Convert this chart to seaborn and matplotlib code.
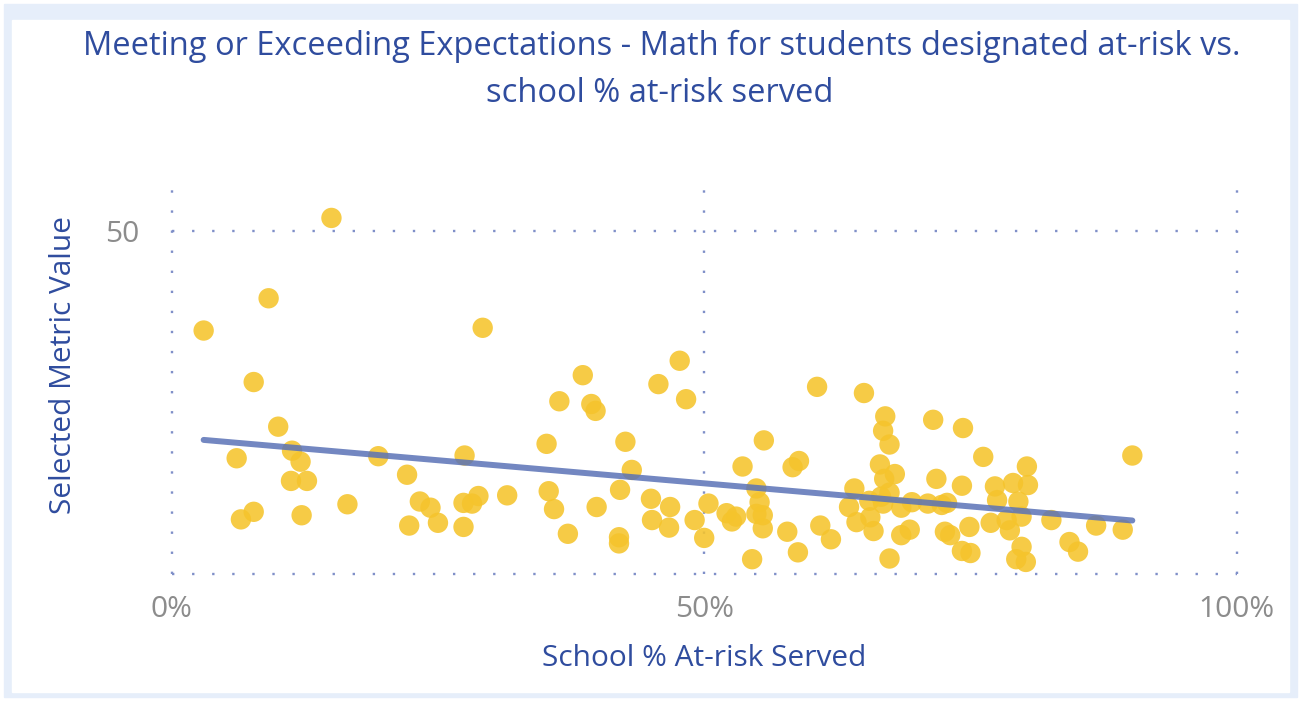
import matplotlib as mpl
import matplotlib.pyplot as plt
from matplotlib.patches import Rectangle
from matplotlib.ticker import PercentFormatter
import seaborn as sns
import pandas as pd

mpl.use('agg')

# school % at-risk served (x, in %) and selected metric value (y)
at_risk_pct = [
    15.0, 3.0, 9.1, 7.7, 10.0, 6.1, 11.3, 12.1, 11.2, 12.7,
    6.5, 7.7, 12.2, 16.5, 19.4, 22.1, 22.3, 23.3, 24.3, 25.0,
    27.5, 27.4, 28.2, 28.8, 27.4, 29.2, 31.5, 38.6, 36.4, 39.4,
    39.8, 35.2, 42.6, 43.2, 35.4, 35.9, 39.9, 42.1, 37.2, 42.0,
    42.0, 45.0, 46.8, 45.1, 46.7, 47.7, 45.7, 48.3, 49.1, 50.0,
    50.4, 52.1, 53.0, 52.6, 53.6, 55.6, 54.9, 55.2, 55.5, 54.9,
    55.5, 54.5, 57.8, 58.8, 58.3, 58.9, 60.6, 60.9, 61.9, 65.0,
    64.1, 63.6, 64.3, 67.0, 66.8, 67.4, 71.5, 74.3, 76.2, 80.3,
    90.2, 66.5, 67.9, 66.9, 71.8, 74.2, 77.3, 79.0, 80.4, 67.4,
    77.5, 79.5, 69.5, 71.0, 72.8, 72.3, 65.5, 66.8, 68.5, 66.6,
    65.9, 65.6, 68.5, 69.3, 72.6, 73.1, 74.9, 76.9, 78.4, 78.7,
    79.8, 82.6, 86.8, 89.3, 84.3, 85.1, 79.8, 79.3, 80.2, 67.4,
    74.2, 75.0,
]
metric_value = [
    51.9, 35.5, 40.2, 28.0, 21.5, 16.9, 18.0, 16.4, 13.6, 13.6,
    8.0, 9.1, 8.6, 10.2, 17.2, 14.5, 7.1, 10.6, 9.7, 7.5,
    17.3, 10.4, 10.3, 11.4, 6.9, 35.9, 11.5, 29.0, 25.2, 24.8,
    23.8, 19.0, 19.3, 15.2, 12.1, 9.5, 9.8, 12.3, 5.9, 5.4,
    4.5, 11.0, 9.8, 7.9, 6.8, 31.1, 27.7, 25.5, 7.9, 5.3,
    10.3, 8.9, 8.4, 7.7, 15.7, 19.5, 12.5, 10.5, 8.6, 8.8,
    6.7, 2.2, 6.2, 3.2, 15.6, 16.5, 27.3, 7.1, 5.1, 26.4,
    12.5, 9.8, 7.6, 23.0, 20.9, 18.9, 22.5, 21.3, 17.1, 15.7,
    17.3, 16.0, 14.6, 13.9, 13.9, 12.9, 12.8, 13.3, 13.0, 11.9,
    10.8, 10.6, 10.5, 10.3, 10.4, 10.1, 10.7, 10.3, 9.7, 11.3,
    6.3, 8.3, 5.7, 6.5, 6.2, 5.7, 6.9, 7.5, 7.9, 6.4,
    8.4, 7.9, 7.1, 6.5, 4.7, 3.3, 4.0, 2.2, 1.8, 2.3,
    3.4, 3.1,
]

x_ticks = [0, 50, 100]
y_ticks = [0, 50]
y_tick_labels = ['', '50']

title_lines = ['Meeting or Exceeding Expectations - Math for students designated at-risk vs.',
               'school % at-risk served']
x_label = 'School % At-risk Served'
y_label = 'Selected Metric Value'

W, H = 1301, 701
blue_txt = '#2F4C9E'
grey_txt = '#8C8C8C'
dot_col = '#7F8FC8'

sns.set_theme(style='white')
plt.rcParams['font.family'] = ['Open Sans', 'DejaVu Sans']

df = pd.DataFrame({'pct': at_risk_pct, 'val': metric_value})

fig = plt.figure(figsize=(W / 100, H / 100), dpi=100)
fig.patch.set_facecolor('white')
# light blue frame and white card
fig.patches.append(Rectangle((4 / W, 4 / H), 1293 / W, 693 / H, transform=fig.transFigure,
                             color='#E6EEFA', zorder=-2))
fig.patches.append(Rectangle((12 / W, 9 / H), 1277 / W, 672 / H, transform=fig.transFigure,
                             color='white', zorder=-1))

ax = fig.add_axes([171.7 / W, (H - 574.3) / H, 1065 / W, 401 / H])
ax.set_zorder(2)
ax.set_facecolor('none')

sns.scatterplot(data=df, x='pct', y='val', s=215, color='#F5C42C', alpha=0.88,
                edgecolor='none', linewidth=0, ax=ax, zorder=3)
sns.regplot(data=df, x='pct', y='val', scatter=False, ci=None, truncate=True,
            line_kws=dict(color='#5A72B6', lw=4.3, alpha=0.85, zorder=4), ax=ax)

ax.set_xlim(0, 100)
ax.set_ylim(0, 58.4)
ax.set_xticks(x_ticks)
ax.xaxis.set_major_formatter(PercentFormatter(decimals=0))
ax.set_yticks(y_ticks, labels=y_tick_labels)
ax.grid(True, color=dot_col, linestyle=(0, (1, 7.5)), linewidth=1.7)
for gl in ax.get_xgridlines() + ax.get_ygridlines():
    gl.set_clip_on(False)
for s in ax.spines.values():
    s.set_visible(False)
ax.tick_params(length=0, labelsize=21.5, labelcolor=grey_txt)
ax.tick_params(axis='x', pad=15)
ax.tick_params(axis='y', pad=23)

ax.set_xlabel(x_label, color=blue_txt, fontsize=21.5)
ax.set_ylabel(y_label, color=blue_txt, fontsize=21.5)
ax.xaxis.set_label_coords(0.5, -0.175)
ax.yaxis.set_label_coords(-0.088, 0.522)

fig.text(662 / W, 1 - 55 / H, title_lines[0], ha='center', va='baseline',
         fontsize=23.5, color=blue_txt)
fig.text(660 / W, 1 - 102 / H, title_lines[1], ha='center', va='baseline',
         fontsize=23.5, color=blue_txt)

fig.savefig('out.png', dpi=100)
